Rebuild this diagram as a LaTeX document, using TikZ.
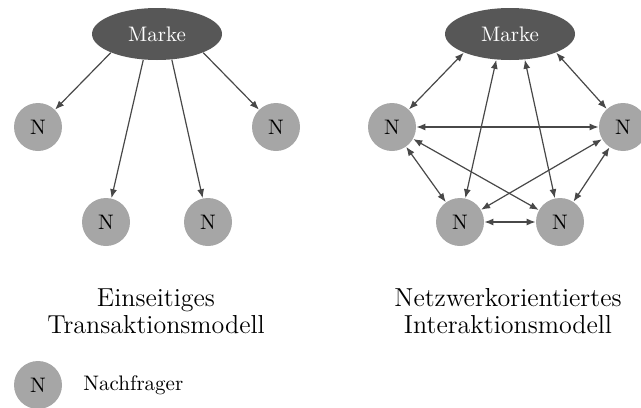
\documentclass[tikz,border=0pt]{standalone}
\usetikzlibrary{arrows.meta,shapes.geometric}

\definecolor{markegrau}{HTML}{575757}
\definecolor{kundegrau}{HTML}{A6A6A6}
\definecolor{pfeilgrau}{HTML}{484848}

\tikzset{
	marke/.style={ellipse,fill=markegrau,text=white,minimum width=65pt,minimum height=26pt,inner sep=0pt},
	kunde/.style={circle,fill=kundegrau,minimum size=24pt,inner sep=0pt},
	pfeil/.style={-{Latex[length=4.5pt,width=3.5pt]},draw=pfeilgrau,line width=0.6pt},
	dpfeil/.style={{Latex[length=4.5pt,width=3.5pt]}-{Latex[length=4.5pt,width=3.5pt]},draw=pfeilgrau,line width=0.6pt},
	titel/.style={align=center,font=\fontsize{13}{13.5}\selectfont}
}

\begin{document}
\begin{tikzpicture}[x=0.5pt,y=-0.5pt,font=\fontsize{10.5}{13}\selectfont]
	\useasboundingbox (0,0) rectangle (641,407);

	\node[marke] (mL) at (157,34) {Marke};
	\node[kunde] (nL1) at (38,127) {N};
	\node[kunde] (nL2) at (106,222) {N};
	\node[kunde] (nL3) at (208,222) {N};
	\node[kunde] (nL4) at (276,127) {N};
	\foreach \a/\n in {202/1,242/2,300/3,338/4}
		\draw[pfeil] (mL.\a) -- (nL\n);

	\node[marke] (mR) at (510,34) {Marke};
	\node[kunde] (nR1) at (392,127) {N};
	\node[kunde] (nR2) at (460,222) {N};
	\node[kunde] (nR3) at (560,222) {N};
	\node[kunde] (nR4) at (623,127) {N};
	\foreach \a/\n in {202/1,242/2,300/3,338/4}
		\draw[dpfeil] (mR.\a) -- (nR\n);
	\foreach \i/\j in {1/2,1/3,1/4,2/3,2/4,3/4}
		\draw[dpfeil] (nR\i) -- (nR\j);

	\node[titel] (tL) at (156,311) {Einseitiges\\Transaktionsmodell};
	\node[titel] (tR) at (508,311) {Netzwerkorientiertes\\Interaktionsmodell};

	\node[kunde] (leg) at (38,385) {N};
	\node[anchor=west,inner sep=0pt] (legtext) at (83,385) {Nachfrager};
\end{tikzpicture}
\end{document}
